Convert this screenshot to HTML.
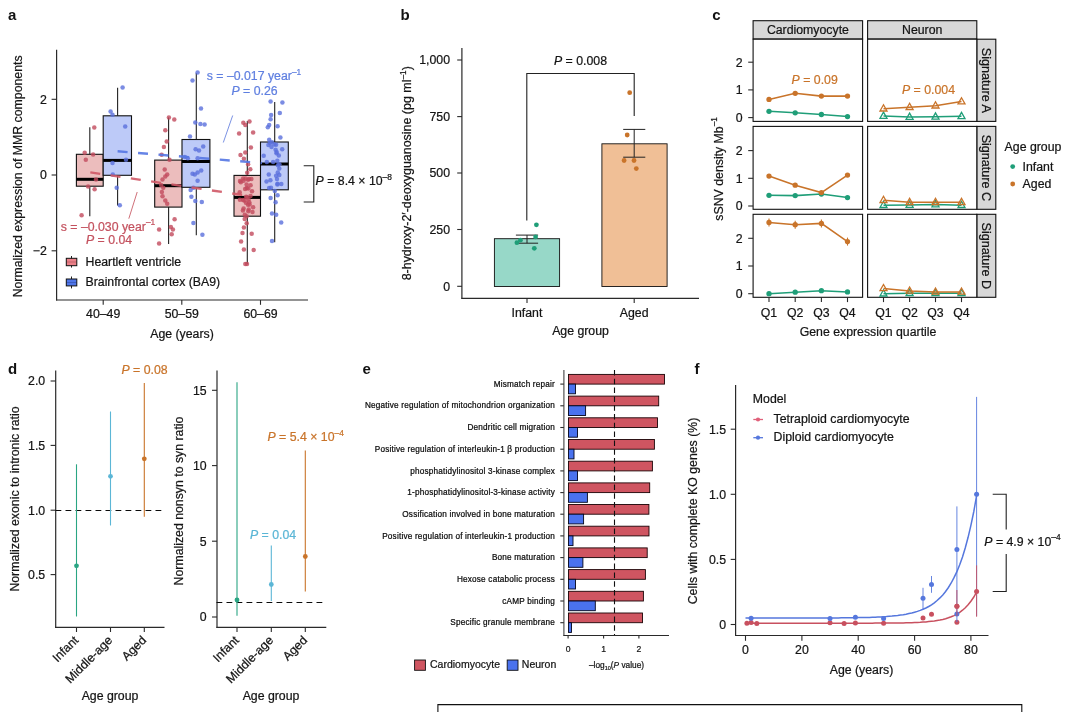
<!DOCTYPE html>
<html><head><meta charset="utf-8"><title>Figure</title>
<style>
html,body{margin:0;padding:0;background:#fff;}
svg{display:block;will-change:transform;}
text{font-family:"Liberation Sans",Arial,Helvetica,sans-serif;}
</style></head><body>
<svg width="1080" height="712" viewBox="0 0 1080 712">
<rect x="0" y="0" width="1080" height="712" fill="#ffffff"/>
<g id="panel-a">
<text x="8.0" y="19.5" font-size="15" text-anchor="start" fill="#111" font-weight="bold">a</text>
<line x1="89.8" y1="127.2" x2="89.8" y2="154.3" stroke="#222" stroke-width="1.1"/>
<line x1="89.8" y1="186.2" x2="89.8" y2="216.2" stroke="#222" stroke-width="1.1"/>
<rect x="76.4" y="154.3" width="26.8" height="31.9" fill="#ecbdbd" stroke="#111" stroke-width="1.1"/>
<line x1="76.4" y1="179.3" x2="103.2" y2="179.3" stroke="#000" stroke-width="3"/>
<line x1="117.6" y1="87.7" x2="117.6" y2="115.8" stroke="#222" stroke-width="1.1"/>
<line x1="117.6" y1="175.3" x2="117.6" y2="205.6" stroke="#222" stroke-width="1.1"/>
<rect x="103.2" y="115.8" width="28.3" height="59.5" fill="#bdcaf8" stroke="#111" stroke-width="1.1"/>
<line x1="103.2" y1="160.4" x2="131.5" y2="160.4" stroke="#000" stroke-width="3"/>
<line x1="168.6" y1="117.6" x2="168.6" y2="160.1" stroke="#222" stroke-width="1.1"/>
<line x1="168.6" y1="207.1" x2="168.6" y2="244.0" stroke="#222" stroke-width="1.1"/>
<rect x="154.7" y="160.1" width="27.3" height="47.0" fill="#ecbdbd" stroke="#111" stroke-width="1.1"/>
<line x1="154.7" y1="185.7" x2="182.0" y2="185.7" stroke="#000" stroke-width="3"/>
<line x1="196.3" y1="73.0" x2="196.3" y2="139.5" stroke="#222" stroke-width="1.1"/>
<line x1="196.3" y1="187.3" x2="196.3" y2="235.2" stroke="#222" stroke-width="1.1"/>
<rect x="182.0" y="139.5" width="27.9" height="47.8" fill="#bdcaf8" stroke="#111" stroke-width="1.1"/>
<line x1="182.0" y1="161.5" x2="209.9" y2="161.5" stroke="#000" stroke-width="3"/>
<line x1="247.3" y1="121.0" x2="247.3" y2="175.4" stroke="#222" stroke-width="1.1"/>
<line x1="247.3" y1="216.2" x2="247.3" y2="264.3" stroke="#222" stroke-width="1.1"/>
<rect x="234.0" y="175.4" width="26.5" height="40.8" fill="#ecbdbd" stroke="#111" stroke-width="1.1"/>
<line x1="234.0" y1="197.4" x2="260.5" y2="197.4" stroke="#000" stroke-width="3"/>
<line x1="274.7" y1="102.0" x2="274.7" y2="142.0" stroke="#222" stroke-width="1.1"/>
<line x1="274.7" y1="189.8" x2="274.7" y2="242.3" stroke="#222" stroke-width="1.1"/>
<rect x="260.5" y="142.0" width="27.8" height="47.8" fill="#bdcaf8" stroke="#111" stroke-width="1.1"/>
<line x1="260.5" y1="164.0" x2="288.3" y2="164.0" stroke="#000" stroke-width="3"/>
<circle cx="94.3" cy="127.4" r="2.25" fill="#c24a5c" fill-opacity="0.8"/>
<circle cx="84.7" cy="152.7" r="2.25" fill="#c24a5c" fill-opacity="0.8"/>
<circle cx="93.1" cy="154.4" r="2.25" fill="#c24a5c" fill-opacity="0.8"/>
<circle cx="85.8" cy="159.7" r="2.25" fill="#c24a5c" fill-opacity="0.8"/>
<circle cx="96.0" cy="179.4" r="2.25" fill="#c24a5c" fill-opacity="0.8"/>
<circle cx="88.1" cy="186.4" r="2.25" fill="#c24a5c" fill-opacity="0.8"/>
<circle cx="94.6" cy="189.2" r="2.25" fill="#c24a5c" fill-opacity="0.8"/>
<circle cx="81.6" cy="215.3" r="2.25" fill="#c24a5c" fill-opacity="0.8"/>
<circle cx="168.9" cy="117.6" r="2.25" fill="#c24a5c" fill-opacity="0.8"/>
<circle cx="174.3" cy="119.6" r="2.25" fill="#c24a5c" fill-opacity="0.8"/>
<circle cx="165.3" cy="130.2" r="2.25" fill="#c24a5c" fill-opacity="0.8"/>
<circle cx="166.7" cy="141.5" r="2.25" fill="#c24a5c" fill-opacity="0.8"/>
<circle cx="163.9" cy="147.1" r="2.25" fill="#c24a5c" fill-opacity="0.8"/>
<circle cx="161.6" cy="154.7" r="2.25" fill="#c24a5c" fill-opacity="0.8"/>
<circle cx="169.5" cy="159.7" r="2.25" fill="#c24a5c" fill-opacity="0.8"/>
<circle cx="164.7" cy="169.6" r="2.25" fill="#c24a5c" fill-opacity="0.8"/>
<circle cx="167.2" cy="174.6" r="2.25" fill="#c24a5c" fill-opacity="0.8"/>
<circle cx="165.3" cy="176.6" r="2.25" fill="#c24a5c" fill-opacity="0.8"/>
<circle cx="162.5" cy="179.4" r="2.25" fill="#c24a5c" fill-opacity="0.8"/>
<circle cx="161.1" cy="185.0" r="2.25" fill="#c24a5c" fill-opacity="0.8"/>
<circle cx="163.3" cy="187.8" r="2.25" fill="#c24a5c" fill-opacity="0.8"/>
<circle cx="161.9" cy="192.0" r="2.25" fill="#c24a5c" fill-opacity="0.8"/>
<circle cx="162.5" cy="196.2" r="2.25" fill="#c24a5c" fill-opacity="0.8"/>
<circle cx="165.3" cy="200.4" r="2.25" fill="#c24a5c" fill-opacity="0.8"/>
<circle cx="167.2" cy="203.8" r="2.25" fill="#c24a5c" fill-opacity="0.8"/>
<circle cx="174.6" cy="219.3" r="2.25" fill="#c24a5c" fill-opacity="0.8"/>
<circle cx="159.1" cy="229.4" r="2.25" fill="#c24a5c" fill-opacity="0.8"/>
<circle cx="170.9" cy="227.1" r="2.25" fill="#c24a5c" fill-opacity="0.8"/>
<circle cx="172.9" cy="229.4" r="2.25" fill="#c24a5c" fill-opacity="0.8"/>
<circle cx="171.7" cy="234.2" r="2.25" fill="#c24a5c" fill-opacity="0.8"/>
<circle cx="159.1" cy="243.4" r="2.25" fill="#c24a5c" fill-opacity="0.8"/>
<circle cx="243.3" cy="122.7" r="2.25" fill="#c24a5c" fill-opacity="0.8"/>
<circle cx="249.5" cy="121.6" r="2.25" fill="#c24a5c" fill-opacity="0.8"/>
<circle cx="245.3" cy="124.9" r="2.25" fill="#c24a5c" fill-opacity="0.8"/>
<circle cx="239.1" cy="133.4" r="2.25" fill="#c24a5c" fill-opacity="0.8"/>
<circle cx="253.1" cy="132.5" r="2.25" fill="#c24a5c" fill-opacity="0.8"/>
<circle cx="250.9" cy="147.4" r="2.25" fill="#c24a5c" fill-opacity="0.8"/>
<circle cx="245.3" cy="152.5" r="2.25" fill="#c24a5c" fill-opacity="0.8"/>
<circle cx="240.5" cy="155.0" r="2.25" fill="#c24a5c" fill-opacity="0.8"/>
<circle cx="243.9" cy="158.7" r="2.25" fill="#c24a5c" fill-opacity="0.8"/>
<circle cx="248.1" cy="164.3" r="2.25" fill="#c24a5c" fill-opacity="0.8"/>
<circle cx="250.3" cy="169.3" r="2.25" fill="#c24a5c" fill-opacity="0.8"/>
<circle cx="247.2" cy="172.7" r="2.25" fill="#c24a5c" fill-opacity="0.8"/>
<circle cx="244.7" cy="219.0" r="2.25" fill="#c24a5c" fill-opacity="0.8"/>
<circle cx="246.7" cy="223.3" r="2.25" fill="#c24a5c" fill-opacity="0.8"/>
<circle cx="243.9" cy="227.5" r="2.25" fill="#c24a5c" fill-opacity="0.8"/>
<circle cx="242.5" cy="233.1" r="2.25" fill="#c24a5c" fill-opacity="0.8"/>
<circle cx="251.7" cy="233.7" r="2.25" fill="#c24a5c" fill-opacity="0.8"/>
<circle cx="241.1" cy="241.5" r="2.25" fill="#c24a5c" fill-opacity="0.8"/>
<circle cx="243.9" cy="249.4" r="2.25" fill="#c24a5c" fill-opacity="0.8"/>
<circle cx="253.7" cy="250.0" r="2.25" fill="#c24a5c" fill-opacity="0.8"/>
<circle cx="245.3" cy="264.0" r="2.25" fill="#c24a5c" fill-opacity="0.8"/>
<circle cx="247.0" cy="264.0" r="2.25" fill="#c24a5c" fill-opacity="0.8"/>
<circle cx="245.9" cy="202.7" r="2.25" fill="#c24a5c" fill-opacity="0.8"/>
<circle cx="249.1" cy="179.0" r="2.25" fill="#c24a5c" fill-opacity="0.8"/>
<circle cx="243.1" cy="178.4" r="2.25" fill="#c24a5c" fill-opacity="0.8"/>
<circle cx="246.1" cy="196.8" r="2.25" fill="#c24a5c" fill-opacity="0.8"/>
<circle cx="251.4" cy="178.9" r="2.25" fill="#c24a5c" fill-opacity="0.8"/>
<circle cx="248.0" cy="179.7" r="2.25" fill="#c24a5c" fill-opacity="0.8"/>
<circle cx="240.0" cy="181.1" r="2.25" fill="#c24a5c" fill-opacity="0.8"/>
<circle cx="250.6" cy="185.2" r="2.25" fill="#c24a5c" fill-opacity="0.8"/>
<circle cx="239.9" cy="199.7" r="2.25" fill="#c24a5c" fill-opacity="0.8"/>
<circle cx="239.7" cy="192.3" r="2.25" fill="#c24a5c" fill-opacity="0.8"/>
<circle cx="248.3" cy="211.2" r="2.25" fill="#c24a5c" fill-opacity="0.8"/>
<circle cx="246.8" cy="187.9" r="2.25" fill="#c24a5c" fill-opacity="0.8"/>
<circle cx="248.3" cy="188.6" r="2.25" fill="#c24a5c" fill-opacity="0.8"/>
<circle cx="248.7" cy="209.5" r="2.25" fill="#c24a5c" fill-opacity="0.8"/>
<circle cx="249.3" cy="202.2" r="2.25" fill="#c24a5c" fill-opacity="0.8"/>
<circle cx="252.0" cy="191.3" r="2.25" fill="#c24a5c" fill-opacity="0.8"/>
<circle cx="245.6" cy="178.4" r="2.25" fill="#c24a5c" fill-opacity="0.8"/>
<circle cx="246.6" cy="184.4" r="2.25" fill="#c24a5c" fill-opacity="0.8"/>
<circle cx="245.1" cy="188.9" r="2.25" fill="#c24a5c" fill-opacity="0.8"/>
<circle cx="243.0" cy="200.0" r="2.25" fill="#c24a5c" fill-opacity="0.8"/>
<circle cx="243.6" cy="208.6" r="2.25" fill="#c24a5c" fill-opacity="0.8"/>
<circle cx="248.0" cy="204.7" r="2.25" fill="#c24a5c" fill-opacity="0.8"/>
<circle cx="247.2" cy="197.5" r="2.25" fill="#c24a5c" fill-opacity="0.8"/>
<circle cx="252.5" cy="211.9" r="2.25" fill="#c24a5c" fill-opacity="0.8"/>
<circle cx="246.6" cy="216.2" r="2.25" fill="#c24a5c" fill-opacity="0.8"/>
<circle cx="243.6" cy="180.8" r="2.25" fill="#c24a5c" fill-opacity="0.8"/>
<circle cx="240.8" cy="182.2" r="2.25" fill="#c24a5c" fill-opacity="0.8"/>
<circle cx="250.5" cy="196.0" r="2.25" fill="#c24a5c" fill-opacity="0.8"/>
<circle cx="253.1" cy="207.3" r="2.25" fill="#c24a5c" fill-opacity="0.8"/>
<circle cx="248.5" cy="199.5" r="2.25" fill="#c24a5c" fill-opacity="0.8"/>
<circle cx="249.6" cy="204.5" r="2.25" fill="#c24a5c" fill-opacity="0.8"/>
<circle cx="244.4" cy="200.4" r="2.25" fill="#c24a5c" fill-opacity="0.8"/>
<circle cx="242.9" cy="210.4" r="2.25" fill="#c24a5c" fill-opacity="0.8"/>
<circle cx="244.8" cy="214.7" r="2.25" fill="#c24a5c" fill-opacity="0.8"/>
<circle cx="122.6" cy="87.5" r="2.25" fill="#5a6fdc" fill-opacity="0.8"/>
<circle cx="110.6" cy="111.4" r="2.25" fill="#5a6fdc" fill-opacity="0.8"/>
<circle cx="112.5" cy="114.8" r="2.25" fill="#5a6fdc" fill-opacity="0.8"/>
<circle cx="125.2" cy="126.6" r="2.25" fill="#5a6fdc" fill-opacity="0.8"/>
<circle cx="126.0" cy="159.7" r="2.25" fill="#5a6fdc" fill-opacity="0.8"/>
<circle cx="112.5" cy="163.1" r="2.25" fill="#5a6fdc" fill-opacity="0.8"/>
<circle cx="112.8" cy="174.6" r="2.25" fill="#5a6fdc" fill-opacity="0.8"/>
<circle cx="116.7" cy="187.8" r="2.25" fill="#5a6fdc" fill-opacity="0.8"/>
<circle cx="119.8" cy="205.2" r="2.25" fill="#5a6fdc" fill-opacity="0.8"/>
<circle cx="197.6" cy="72.6" r="2.25" fill="#5a6fdc" fill-opacity="0.8"/>
<circle cx="192.5" cy="80.5" r="2.25" fill="#5a6fdc" fill-opacity="0.8"/>
<circle cx="201.0" cy="108.6" r="2.25" fill="#5a6fdc" fill-opacity="0.8"/>
<circle cx="195.3" cy="122.4" r="2.25" fill="#5a6fdc" fill-opacity="0.8"/>
<circle cx="200.4" cy="124.0" r="2.25" fill="#5a6fdc" fill-opacity="0.8"/>
<circle cx="204.6" cy="124.6" r="2.25" fill="#5a6fdc" fill-opacity="0.8"/>
<circle cx="190.0" cy="136.4" r="2.25" fill="#5a6fdc" fill-opacity="0.8"/>
<circle cx="195.6" cy="149.3" r="2.25" fill="#5a6fdc" fill-opacity="0.8"/>
<circle cx="199.0" cy="150.4" r="2.25" fill="#5a6fdc" fill-opacity="0.8"/>
<circle cx="203.2" cy="146.5" r="2.25" fill="#5a6fdc" fill-opacity="0.8"/>
<circle cx="184.9" cy="156.9" r="2.25" fill="#5a6fdc" fill-opacity="0.8"/>
<circle cx="187.8" cy="158.3" r="2.25" fill="#5a6fdc" fill-opacity="0.8"/>
<circle cx="197.6" cy="158.3" r="2.25" fill="#5a6fdc" fill-opacity="0.8"/>
<circle cx="201.2" cy="170.4" r="2.25" fill="#5a6fdc" fill-opacity="0.8"/>
<circle cx="197.6" cy="172.4" r="2.25" fill="#5a6fdc" fill-opacity="0.8"/>
<circle cx="194.8" cy="174.6" r="2.25" fill="#5a6fdc" fill-opacity="0.8"/>
<circle cx="192.5" cy="173.8" r="2.25" fill="#5a6fdc" fill-opacity="0.8"/>
<circle cx="197.6" cy="180.8" r="2.25" fill="#5a6fdc" fill-opacity="0.8"/>
<circle cx="193.4" cy="187.8" r="2.25" fill="#5a6fdc" fill-opacity="0.8"/>
<circle cx="190.6" cy="190.0" r="2.25" fill="#5a6fdc" fill-opacity="0.8"/>
<circle cx="191.4" cy="196.8" r="2.25" fill="#5a6fdc" fill-opacity="0.8"/>
<circle cx="195.3" cy="201.0" r="2.25" fill="#5a6fdc" fill-opacity="0.8"/>
<circle cx="201.8" cy="201.9" r="2.25" fill="#5a6fdc" fill-opacity="0.8"/>
<circle cx="193.4" cy="222.9" r="2.25" fill="#5a6fdc" fill-opacity="0.8"/>
<circle cx="202.4" cy="234.7" r="2.25" fill="#5a6fdc" fill-opacity="0.8"/>
<circle cx="270.6" cy="101.6" r="2.25" fill="#5a6fdc" fill-opacity="0.8"/>
<circle cx="282.4" cy="102.5" r="2.25" fill="#5a6fdc" fill-opacity="0.8"/>
<circle cx="279.8" cy="113.1" r="2.25" fill="#5a6fdc" fill-opacity="0.8"/>
<circle cx="271.1" cy="115.1" r="2.25" fill="#5a6fdc" fill-opacity="0.8"/>
<circle cx="270.6" cy="119.3" r="2.25" fill="#5a6fdc" fill-opacity="0.8"/>
<circle cx="269.2" cy="124.9" r="2.25" fill="#5a6fdc" fill-opacity="0.8"/>
<circle cx="267.8" cy="127.2" r="2.25" fill="#5a6fdc" fill-opacity="0.8"/>
<circle cx="277.6" cy="126.3" r="2.25" fill="#5a6fdc" fill-opacity="0.8"/>
<circle cx="280.4" cy="137.6" r="2.25" fill="#5a6fdc" fill-opacity="0.8"/>
<circle cx="269.2" cy="139.8" r="2.25" fill="#5a6fdc" fill-opacity="0.8"/>
<circle cx="274.8" cy="191.0" r="2.25" fill="#5a6fdc" fill-opacity="0.8"/>
<circle cx="277.6" cy="195.2" r="2.25" fill="#5a6fdc" fill-opacity="0.8"/>
<circle cx="270.6" cy="198.0" r="2.25" fill="#5a6fdc" fill-opacity="0.8"/>
<circle cx="275.6" cy="202.2" r="2.25" fill="#5a6fdc" fill-opacity="0.8"/>
<circle cx="272.0" cy="213.4" r="2.25" fill="#5a6fdc" fill-opacity="0.8"/>
<circle cx="276.2" cy="214.8" r="2.25" fill="#5a6fdc" fill-opacity="0.8"/>
<circle cx="281.2" cy="222.4" r="2.25" fill="#5a6fdc" fill-opacity="0.8"/>
<circle cx="272.0" cy="241.0" r="2.25" fill="#5a6fdc" fill-opacity="0.8"/>
<circle cx="268.4" cy="144.9" r="2.25" fill="#5a6fdc" fill-opacity="0.8"/>
<circle cx="276.1" cy="175.7" r="2.25" fill="#5a6fdc" fill-opacity="0.8"/>
<circle cx="266.5" cy="181.5" r="2.25" fill="#5a6fdc" fill-opacity="0.8"/>
<circle cx="263.7" cy="155.7" r="2.25" fill="#5a6fdc" fill-opacity="0.8"/>
<circle cx="270.0" cy="143.1" r="2.25" fill="#5a6fdc" fill-opacity="0.8"/>
<circle cx="279.4" cy="164.2" r="2.25" fill="#5a6fdc" fill-opacity="0.8"/>
<circle cx="276.1" cy="144.8" r="2.25" fill="#5a6fdc" fill-opacity="0.8"/>
<circle cx="277.0" cy="178.9" r="2.25" fill="#5a6fdc" fill-opacity="0.8"/>
<circle cx="277.3" cy="160.8" r="2.25" fill="#5a6fdc" fill-opacity="0.8"/>
<circle cx="277.5" cy="183.8" r="2.25" fill="#5a6fdc" fill-opacity="0.8"/>
<circle cx="279.3" cy="168.4" r="2.25" fill="#5a6fdc" fill-opacity="0.8"/>
<circle cx="277.4" cy="184.4" r="2.25" fill="#5a6fdc" fill-opacity="0.8"/>
<circle cx="278.8" cy="155.4" r="2.25" fill="#5a6fdc" fill-opacity="0.8"/>
<circle cx="266.8" cy="161.9" r="2.25" fill="#5a6fdc" fill-opacity="0.8"/>
<circle cx="269.1" cy="188.0" r="2.25" fill="#5a6fdc" fill-opacity="0.8"/>
<circle cx="282.2" cy="149.2" r="2.25" fill="#5a6fdc" fill-opacity="0.8"/>
<circle cx="276.5" cy="153.2" r="2.25" fill="#5a6fdc" fill-opacity="0.8"/>
<circle cx="277.9" cy="165.3" r="2.25" fill="#5a6fdc" fill-opacity="0.8"/>
<circle cx="272.0" cy="142.2" r="2.25" fill="#5a6fdc" fill-opacity="0.8"/>
<circle cx="273.1" cy="162.1" r="2.25" fill="#5a6fdc" fill-opacity="0.8"/>
<circle cx="271.0" cy="187.7" r="2.25" fill="#5a6fdc" fill-opacity="0.8"/>
<circle cx="279.3" cy="175.1" r="2.25" fill="#5a6fdc" fill-opacity="0.8"/>
<circle cx="268.8" cy="174.5" r="2.25" fill="#5a6fdc" fill-opacity="0.8"/>
<circle cx="274.4" cy="144.6" r="2.25" fill="#5a6fdc" fill-opacity="0.8"/>
<circle cx="281.3" cy="184.0" r="2.25" fill="#5a6fdc" fill-opacity="0.8"/>
<circle cx="270.4" cy="180.3" r="2.25" fill="#5a6fdc" fill-opacity="0.8"/>
<circle cx="271.5" cy="147.0" r="2.25" fill="#5a6fdc" fill-opacity="0.8"/>
<circle cx="277.8" cy="172.4" r="2.25" fill="#5a6fdc" fill-opacity="0.8"/>
<circle cx="276.6" cy="152.0" r="2.25" fill="#5a6fdc" fill-opacity="0.8"/>
<circle cx="275.6" cy="149.8" r="2.25" fill="#5a6fdc" fill-opacity="0.8"/>
<line x1="90.3" y1="172.4" x2="248.0" y2="195.8" stroke="#cf5866" stroke-width="2.4" stroke-dasharray="10 10.5" stroke-opacity="0.9"/>
<line x1="117.6" y1="151.3" x2="262.0" y2="163.1" stroke="#5577e3" stroke-width="2.4" stroke-dasharray="10 10.5" stroke-opacity="0.9"/>
<line x1="232.7" y1="115.5" x2="223.3" y2="142.5" stroke="#6c86e0" stroke-width="0.9"/>
<line x1="137.2" y1="192.0" x2="128.8" y2="218.7" stroke="#c9606a" stroke-width="0.9"/>
<text x="254.0" y="80.0" font-size="12.3" text-anchor="middle" fill="#5f7fe0" stroke="#5f7fe0" stroke-width="0.22">s = –0.017 year<tspan font-size="8.4" dy="-5.4">–1</tspan></text>
<text x="254.5" y="95.0" font-size="12.3" text-anchor="middle" fill="#5f7fe0" stroke="#5f7fe0" stroke-width="0.22"><tspan font-style="italic">P</tspan> = 0.26</text>
<text x="108.0" y="230.5" font-size="12.3" text-anchor="middle" fill="#c4525f" stroke="#c4525f" stroke-width="0.22">s = –0.030 year<tspan font-size="8.4" dy="-5.4">–1</tspan></text>
<text x="109.0" y="244.0" font-size="12.3" text-anchor="middle" fill="#c4525f" stroke="#c4525f" stroke-width="0.22"><tspan font-style="italic">P</tspan> = 0.04</text>
<line x1="56.6" y1="49.8" x2="56.6" y2="300.5" stroke="#2a2a2a" stroke-width="1.2"/>
<line x1="56.0" y1="300.0" x2="308.0" y2="300.0" stroke="#2a2a2a" stroke-width="1.1"/>
<line x1="51.6" y1="99.3" x2="56.6" y2="99.3" stroke="#2a2a2a" stroke-width="1.1"/>
<text x="46.8" y="103.6" font-size="12.3" text-anchor="end" fill="#141414" stroke="#141414" stroke-width="0.22">2</text>
<line x1="51.6" y1="175.0" x2="56.6" y2="175.0" stroke="#2a2a2a" stroke-width="1.1"/>
<text x="46.8" y="179.3" font-size="12.3" text-anchor="end" fill="#141414" stroke="#141414" stroke-width="0.22">0</text>
<line x1="51.6" y1="250.8" x2="56.6" y2="250.8" stroke="#2a2a2a" stroke-width="1.1"/>
<text x="46.8" y="255.1" font-size="12.3" text-anchor="end" fill="#141414" stroke="#141414" stroke-width="0.22">−2</text>
<line x1="103.2" y1="300.0" x2="103.2" y2="304.8" stroke="#2a2a2a" stroke-width="1.1"/>
<text x="103.2" y="318.3" font-size="12.3" text-anchor="middle" fill="#141414" stroke="#141414" stroke-width="0.22">40–49</text>
<line x1="181.8" y1="300.0" x2="181.8" y2="304.8" stroke="#2a2a2a" stroke-width="1.1"/>
<text x="181.8" y="318.3" font-size="12.3" text-anchor="middle" fill="#141414" stroke="#141414" stroke-width="0.22">50–59</text>
<line x1="260.5" y1="300.0" x2="260.5" y2="304.8" stroke="#2a2a2a" stroke-width="1.1"/>
<text x="260.5" y="318.3" font-size="12.3" text-anchor="middle" fill="#141414" stroke="#141414" stroke-width="0.22">60–69</text>
<text x="182.0" y="337.5" font-size="12.3" text-anchor="middle" fill="#141414" stroke="#141414" stroke-width="0.22">Age (years)</text>
<text x="21.6" y="176.4" font-size="12.3" text-anchor="middle" fill="#141414" stroke="#141414" stroke-width="0.22" transform="rotate(-90 21.6 176.4)">Normalized expression of MMR components</text>
<line x1="71.5" y1="256.0" x2="71.5" y2="267.6" stroke="#222" stroke-width="1"/>
<rect x="66.3" y="258.3" width="10.5" height="7.4" fill="#ea8088" stroke="#111" stroke-width="1"/>
<line x1="66.3" y1="262.0" x2="76.8" y2="262.0" stroke="#5a1a20" stroke-width="0.8" stroke-opacity="0.35"/>
<text x="85.5" y="265.9" font-size="12.3" text-anchor="start" fill="#141414" stroke="#141414" stroke-width="0.22">Heartleft ventricle</text>
<line x1="71.5" y1="276.5" x2="71.5" y2="288.4" stroke="#222" stroke-width="1"/>
<rect x="66.3" y="279.0" width="10.5" height="6.9" fill="#4f76e8" stroke="#111" stroke-width="1"/>
<line x1="66.3" y1="282.5" x2="76.8" y2="282.5" stroke="#101a5a" stroke-width="0.8" stroke-opacity="0.35"/>
<text x="85.5" y="285.6" font-size="12.3" text-anchor="start" fill="#141414" stroke="#141414" stroke-width="0.22">Brainfrontal cortex (BA9)</text>
<path d="M303.7 165.8H313.8V202H303.7" fill="none" stroke="#222" stroke-width="1.1"/>
<text x="315.6" y="185.3" font-size="12.3" text-anchor="start" fill="#141414" stroke="#141414" stroke-width="0.22"><tspan font-style="italic">P</tspan> = 8.4 × 10<tspan font-size="8.4" dy="-5.4">–8</tspan></text>
</g>
<g id="panel-b">
<text x="400.5" y="19.5" font-size="15" text-anchor="start" fill="#111" font-weight="bold">b</text>
<rect x="494.4" y="238.7" width="65.2" height="47.8" fill="#97d8c8" stroke="#111" stroke-width="0.9"/>
<rect x="601.9" y="143.8" width="65.2" height="142.7" fill="#f0bf96" stroke="#111" stroke-width="0.9"/>
<line x1="527.0" y1="235.1" x2="527.0" y2="243.2" stroke="#222" stroke-width="1"/>
<line x1="515.9" y1="235.1" x2="538.1" y2="235.1" stroke="#222" stroke-width="1"/>
<line x1="515.9" y1="243.2" x2="538.1" y2="243.2" stroke="#222" stroke-width="1"/>
<line x1="634.2" y1="129.4" x2="634.2" y2="157.2" stroke="#222" stroke-width="1"/>
<line x1="623.2" y1="129.4" x2="645.3" y2="129.4" stroke="#222" stroke-width="1"/>
<line x1="623.2" y1="157.2" x2="645.3" y2="157.2" stroke="#222" stroke-width="1"/>
<circle cx="536.4" cy="224.8" r="2.4" fill="#1f9e78"/>
<circle cx="516.9" cy="242.7" r="2.4" fill="#1f9e78"/>
<circle cx="520.4" cy="240.2" r="2.4" fill="#1f9e78"/>
<circle cx="535.6" cy="236.9" r="2.4" fill="#1f9e78"/>
<circle cx="534.3" cy="248.3" r="2.4" fill="#1f9e78"/>
<circle cx="629.7" cy="92.7" r="2.4" fill="#c9742a"/>
<circle cx="627.2" cy="135.0" r="2.4" fill="#c9742a"/>
<circle cx="624.1" cy="160.5" r="2.4" fill="#c9742a"/>
<circle cx="634.0" cy="160.5" r="2.4" fill="#c9742a"/>
<circle cx="636.3" cy="168.6" r="2.4" fill="#c9742a"/>
<path d="M526.8 220.5V73.5H634.2V116" fill="none" stroke="#222" stroke-width="1.1"/>
<text x="580.5" y="65.0" font-size="12.3" text-anchor="middle" fill="#141414" stroke="#141414" stroke-width="0.22"><tspan font-style="italic">P</tspan> = 0.008</text>
<line x1="461.9" y1="48.0" x2="461.9" y2="298.8" stroke="#2a2a2a" stroke-width="1.2"/>
<line x1="461.3" y1="298.3" x2="699.0" y2="298.3" stroke="#2a2a2a" stroke-width="1.2"/>
<line x1="457.2" y1="60.0" x2="462.0" y2="60.0" stroke="#2a2a2a" stroke-width="1.1"/>
<text x="450.0" y="64.3" font-size="12.3" text-anchor="end" fill="#141414" stroke="#141414" stroke-width="0.22">1,000</text>
<line x1="457.2" y1="116.6" x2="462.0" y2="116.6" stroke="#2a2a2a" stroke-width="1.1"/>
<text x="450.0" y="120.9" font-size="12.3" text-anchor="end" fill="#141414" stroke="#141414" stroke-width="0.22">750</text>
<line x1="457.2" y1="173.0" x2="462.0" y2="173.0" stroke="#2a2a2a" stroke-width="1.1"/>
<text x="450.0" y="177.3" font-size="12.3" text-anchor="end" fill="#141414" stroke="#141414" stroke-width="0.22">500</text>
<line x1="457.2" y1="229.5" x2="462.0" y2="229.5" stroke="#2a2a2a" stroke-width="1.1"/>
<text x="450.0" y="233.8" font-size="12.3" text-anchor="end" fill="#141414" stroke="#141414" stroke-width="0.22">250</text>
<line x1="457.2" y1="286.3" x2="462.0" y2="286.3" stroke="#2a2a2a" stroke-width="1.1"/>
<text x="450.0" y="290.6" font-size="12.3" text-anchor="end" fill="#141414" stroke="#141414" stroke-width="0.22">0</text>
<line x1="527.0" y1="298.3" x2="527.0" y2="303.0" stroke="#2a2a2a" stroke-width="1.1"/>
<text x="527.0" y="316.8" font-size="12.3" text-anchor="middle" fill="#141414" stroke="#141414" stroke-width="0.22">Infant</text>
<line x1="634.2" y1="298.3" x2="634.2" y2="303.0" stroke="#2a2a2a" stroke-width="1.1"/>
<text x="634.2" y="316.8" font-size="12.3" text-anchor="middle" fill="#141414" stroke="#141414" stroke-width="0.22">Aged</text>
<text x="580.5" y="335.2" font-size="12.3" text-anchor="middle" fill="#141414" stroke="#141414" stroke-width="0.22">Age group</text>
<text x="411.2" y="173.2" font-size="12.45" text-anchor="middle" fill="#141414" stroke="#141414" stroke-width="0.22" transform="rotate(-90 411.2 173.2)">8-hydroxy-2′-deoxyguanosine (pg ml<tspan font-size="8.4" dy="-5.4">–1</tspan><tspan dy="5.4">)</tspan></text>
</g>
<g id="panel-c">
<text x="712.3" y="19.5" font-size="15" text-anchor="start" fill="#111" font-weight="bold">c</text>
<rect x="753.1" y="20.7" width="109.5" height="18.3" fill="#d8d8d8" stroke="#111" stroke-width="1.1"/>
<text x="807.9" y="34.2" font-size="12.3" text-anchor="middle" fill="#141414" stroke="#141414" stroke-width="0.22">Cardiomyocyte</text>
<rect x="867.6" y="20.7" width="109.2" height="18.3" fill="#d8d8d8" stroke="#111" stroke-width="1.1"/>
<text x="922.2" y="34.2" font-size="12.3" text-anchor="middle" fill="#141414" stroke="#141414" stroke-width="0.22">Neuron</text>
<rect x="976.8" y="39.2" width="19.0" height="82.2" fill="#d8d8d8" stroke="#111" stroke-width="1.1"/>
<text x="982.0" y="80.3" font-size="12.6" text-anchor="middle" fill="#141414" stroke="#141414" stroke-width="0.22" transform="rotate(90 982.0 80.3)">Signature A</text>
<rect x="976.8" y="126.4" width="19.0" height="82.9" fill="#d8d8d8" stroke="#111" stroke-width="1.1"/>
<text x="982.0" y="167.9" font-size="12.6" text-anchor="middle" fill="#141414" stroke="#141414" stroke-width="0.22" transform="rotate(90 982.0 167.9)">Signature C</text>
<rect x="976.8" y="214.3" width="19.0" height="83.0" fill="#d8d8d8" stroke="#111" stroke-width="1.1"/>
<text x="982.0" y="255.8" font-size="12.6" text-anchor="middle" fill="#141414" stroke="#141414" stroke-width="0.22" transform="rotate(90 982.0 255.8)">Signature D</text>
<rect x="753.1" y="39.2" width="109.5" height="82.2" fill="#fff" stroke="#111" stroke-width="1.1"/>
<rect x="753.1" y="126.4" width="109.5" height="82.9" fill="#fff" stroke="#111" stroke-width="1.1"/>
<rect x="753.1" y="214.3" width="109.5" height="83.0" fill="#fff" stroke="#111" stroke-width="1.1"/>
<rect x="867.6" y="39.2" width="109.2" height="82.2" fill="#fff" stroke="#111" stroke-width="1.1"/>
<rect x="867.6" y="126.4" width="109.2" height="82.9" fill="#fff" stroke="#111" stroke-width="1.1"/>
<rect x="867.6" y="214.3" width="109.2" height="83.0" fill="#fff" stroke="#111" stroke-width="1.1"/>
<line x1="748.2" y1="117.6" x2="753.1" y2="117.6" stroke="#2a2a2a" stroke-width="1.1"/>
<text x="742.6" y="121.9" font-size="12.3" text-anchor="end" fill="#141414" stroke="#141414" stroke-width="0.22">0</text>
<line x1="748.2" y1="89.9" x2="753.1" y2="89.9" stroke="#2a2a2a" stroke-width="1.1"/>
<text x="742.6" y="94.2" font-size="12.3" text-anchor="end" fill="#141414" stroke="#141414" stroke-width="0.22">1</text>
<line x1="748.2" y1="62.2" x2="753.1" y2="62.2" stroke="#2a2a2a" stroke-width="1.1"/>
<text x="742.6" y="66.5" font-size="12.3" text-anchor="end" fill="#141414" stroke="#141414" stroke-width="0.22">2</text>
<line x1="748.2" y1="206.0" x2="753.1" y2="206.0" stroke="#2a2a2a" stroke-width="1.1"/>
<text x="742.6" y="210.3" font-size="12.3" text-anchor="end" fill="#141414" stroke="#141414" stroke-width="0.22">0</text>
<line x1="748.2" y1="178.3" x2="753.1" y2="178.3" stroke="#2a2a2a" stroke-width="1.1"/>
<text x="742.6" y="182.6" font-size="12.3" text-anchor="end" fill="#141414" stroke="#141414" stroke-width="0.22">1</text>
<line x1="748.2" y1="150.6" x2="753.1" y2="150.6" stroke="#2a2a2a" stroke-width="1.1"/>
<text x="742.6" y="154.9" font-size="12.3" text-anchor="end" fill="#141414" stroke="#141414" stroke-width="0.22">2</text>
<line x1="748.2" y1="293.7" x2="753.1" y2="293.7" stroke="#2a2a2a" stroke-width="1.1"/>
<text x="742.6" y="298.0" font-size="12.3" text-anchor="end" fill="#141414" stroke="#141414" stroke-width="0.22">0</text>
<line x1="748.2" y1="266.0" x2="753.1" y2="266.0" stroke="#2a2a2a" stroke-width="1.1"/>
<text x="742.6" y="270.3" font-size="12.3" text-anchor="end" fill="#141414" stroke="#141414" stroke-width="0.22">1</text>
<line x1="748.2" y1="238.3" x2="753.1" y2="238.3" stroke="#2a2a2a" stroke-width="1.1"/>
<text x="742.6" y="242.6" font-size="12.3" text-anchor="end" fill="#141414" stroke="#141414" stroke-width="0.22">2</text>
<line x1="769.0" y1="297.3" x2="769.0" y2="302.1" stroke="#2a2a2a" stroke-width="1.1"/>
<text x="769.0" y="317.2" font-size="12.3" text-anchor="middle" fill="#141414" stroke="#141414" stroke-width="0.22">Q1</text>
<line x1="795.2" y1="297.3" x2="795.2" y2="302.1" stroke="#2a2a2a" stroke-width="1.1"/>
<text x="795.2" y="317.2" font-size="12.3" text-anchor="middle" fill="#141414" stroke="#141414" stroke-width="0.22">Q2</text>
<line x1="821.4" y1="297.3" x2="821.4" y2="302.1" stroke="#2a2a2a" stroke-width="1.1"/>
<text x="821.4" y="317.2" font-size="12.3" text-anchor="middle" fill="#141414" stroke="#141414" stroke-width="0.22">Q3</text>
<line x1="847.5" y1="297.3" x2="847.5" y2="302.1" stroke="#2a2a2a" stroke-width="1.1"/>
<text x="847.5" y="317.2" font-size="12.3" text-anchor="middle" fill="#141414" stroke="#141414" stroke-width="0.22">Q4</text>
<line x1="883.5" y1="297.3" x2="883.5" y2="302.1" stroke="#2a2a2a" stroke-width="1.1"/>
<text x="883.5" y="317.2" font-size="12.3" text-anchor="middle" fill="#141414" stroke="#141414" stroke-width="0.22">Q1</text>
<line x1="909.6" y1="297.3" x2="909.6" y2="302.1" stroke="#2a2a2a" stroke-width="1.1"/>
<text x="909.6" y="317.2" font-size="12.3" text-anchor="middle" fill="#141414" stroke="#141414" stroke-width="0.22">Q2</text>
<line x1="935.5" y1="297.3" x2="935.5" y2="302.1" stroke="#2a2a2a" stroke-width="1.1"/>
<text x="935.5" y="317.2" font-size="12.3" text-anchor="middle" fill="#141414" stroke="#141414" stroke-width="0.22">Q3</text>
<line x1="961.5" y1="297.3" x2="961.5" y2="302.1" stroke="#2a2a2a" stroke-width="1.1"/>
<text x="961.5" y="317.2" font-size="12.3" text-anchor="middle" fill="#141414" stroke="#141414" stroke-width="0.22">Q4</text>
<text x="868.0" y="335.6" font-size="12.3" text-anchor="middle" fill="#141414" stroke="#141414" stroke-width="0.22">Gene expression quartile</text>
<text x="722.6" y="168.8" font-size="12.3" text-anchor="middle" fill="#141414" stroke="#141414" stroke-width="0.22" transform="rotate(-90 722.6 168.8)">sSNV density Mb<tspan font-size="8.4" dy="-5.4">–1</tspan></text>
<polyline points="769.0,111.3 795.2,112.8 821.4,114.5 847.5,116.6" fill="none" stroke="#1f9e78" stroke-width="1.55"/>
<circle cx="769.0" cy="111.3" r="2.65" fill="#1f9e78"/>
<circle cx="795.2" cy="112.8" r="2.65" fill="#1f9e78"/>
<circle cx="821.4" cy="114.5" r="2.65" fill="#1f9e78"/>
<circle cx="847.5" cy="116.6" r="2.65" fill="#1f9e78"/>
<polyline points="769.0,99.4 795.2,93.3 821.4,96.1 847.5,96.1" fill="none" stroke="#c9742a" stroke-width="1.55"/>
<circle cx="769.0" cy="99.4" r="2.65" fill="#c9742a"/>
<circle cx="795.2" cy="93.3" r="2.65" fill="#c9742a"/>
<circle cx="821.4" cy="96.1" r="2.65" fill="#c9742a"/>
<circle cx="847.5" cy="96.1" r="2.65" fill="#c9742a"/>
<polyline points="769.0,195.3 795.2,195.6 821.4,194.1 847.5,197.6" fill="none" stroke="#1f9e78" stroke-width="1.55"/>
<circle cx="769.0" cy="195.3" r="2.65" fill="#1f9e78"/>
<circle cx="795.2" cy="195.6" r="2.65" fill="#1f9e78"/>
<circle cx="821.4" cy="194.1" r="2.65" fill="#1f9e78"/>
<circle cx="847.5" cy="197.6" r="2.65" fill="#1f9e78"/>
<polyline points="769.0,176.1 795.2,185.2 821.4,192.6 847.5,175.1" fill="none" stroke="#c9742a" stroke-width="1.55"/>
<circle cx="769.0" cy="176.1" r="2.65" fill="#c9742a"/>
<circle cx="795.2" cy="185.2" r="2.65" fill="#c9742a"/>
<circle cx="821.4" cy="192.6" r="2.65" fill="#c9742a"/>
<circle cx="847.5" cy="175.1" r="2.65" fill="#c9742a"/>
<polyline points="769.0,293.7 795.2,292.2 821.4,290.7 847.5,291.9" fill="none" stroke="#1f9e78" stroke-width="1.55"/>
<circle cx="769.0" cy="293.7" r="2.65" fill="#1f9e78"/>
<circle cx="795.2" cy="292.2" r="2.65" fill="#1f9e78"/>
<circle cx="821.4" cy="290.7" r="2.65" fill="#1f9e78"/>
<circle cx="847.5" cy="291.9" r="2.65" fill="#1f9e78"/>
<polyline points="769.0,222.4 795.2,224.7 821.4,223.4 847.5,241.6" fill="none" stroke="#c9742a" stroke-width="1.55"/>
<line x1="769.0" y1="218.4" x2="769.0" y2="226.4" stroke="#c9742a" stroke-width="1.1"/>
<circle cx="769.0" cy="222.4" r="2.65" fill="#c9742a"/>
<line x1="795.2" y1="220.7" x2="795.2" y2="228.7" stroke="#c9742a" stroke-width="1.1"/>
<circle cx="795.2" cy="224.7" r="2.65" fill="#c9742a"/>
<line x1="821.4" y1="219.4" x2="821.4" y2="227.4" stroke="#c9742a" stroke-width="1.1"/>
<circle cx="821.4" cy="223.4" r="2.65" fill="#c9742a"/>
<line x1="847.5" y1="237.6" x2="847.5" y2="245.6" stroke="#c9742a" stroke-width="1.1"/>
<circle cx="847.5" cy="241.6" r="2.65" fill="#c9742a"/>
<polyline points="883.5,116.0 909.6,117.0 935.5,116.8 961.5,116.3" fill="none" stroke="#1f9e78" stroke-width="1.55"/>
<path d="M883.5 112.1L887.0 118.3H880.0Z" fill="none" stroke="#1f9e78" stroke-width="1.3"/>
<path d="M909.6 113.1L913.1 119.3H906.1Z" fill="none" stroke="#1f9e78" stroke-width="1.3"/>
<path d="M935.5 112.9L939.0 119.1H932.0Z" fill="none" stroke="#1f9e78" stroke-width="1.3"/>
<path d="M961.5 112.4L965.0 118.6H958.0Z" fill="none" stroke="#1f9e78" stroke-width="1.3"/>
<polyline points="883.5,108.7 909.6,107.2 935.5,105.7 961.5,101.6" fill="none" stroke="#c9742a" stroke-width="1.55"/>
<path d="M883.5 104.8L887.0 111.0H880.0Z" fill="none" stroke="#c9742a" stroke-width="1.3"/>
<path d="M909.6 103.3L913.1 109.5H906.1Z" fill="none" stroke="#c9742a" stroke-width="1.3"/>
<path d="M935.5 101.8L939.0 108.0H932.0Z" fill="none" stroke="#c9742a" stroke-width="1.3"/>
<path d="M961.5 97.7L965.0 103.9H958.0Z" fill="none" stroke="#c9742a" stroke-width="1.3"/>
<polyline points="883.5,205.2 909.6,205.0 935.5,204.5 961.5,205.2" fill="none" stroke="#1f9e78" stroke-width="1.55"/>
<path d="M883.5 201.3L887.0 207.5H880.0Z" fill="none" stroke="#1f9e78" stroke-width="1.3"/>
<path d="M909.6 201.1L913.1 207.3H906.1Z" fill="none" stroke="#1f9e78" stroke-width="1.3"/>
<path d="M935.5 200.6L939.0 206.8H932.0Z" fill="none" stroke="#1f9e78" stroke-width="1.3"/>
<path d="M961.5 201.3L965.0 207.5H958.0Z" fill="none" stroke="#1f9e78" stroke-width="1.3"/>
<polyline points="883.5,200.2 909.6,202.2 935.5,202.2 961.5,202.2" fill="none" stroke="#c9742a" stroke-width="1.55"/>
<path d="M883.5 196.3L887.0 202.5H880.0Z" fill="none" stroke="#c9742a" stroke-width="1.3"/>
<path d="M909.6 198.3L913.1 204.5H906.1Z" fill="none" stroke="#c9742a" stroke-width="1.3"/>
<path d="M935.5 198.3L939.0 204.5H932.0Z" fill="none" stroke="#c9742a" stroke-width="1.3"/>
<path d="M961.5 198.3L965.0 204.5H958.0Z" fill="none" stroke="#c9742a" stroke-width="1.3"/>
<polyline points="883.5,293.7 909.6,293.2 935.5,293.2 961.5,293.2" fill="none" stroke="#1f9e78" stroke-width="1.55"/>
<path d="M883.5 289.8L887.0 296.0H880.0Z" fill="none" stroke="#1f9e78" stroke-width="1.3"/>
<path d="M909.6 289.3L913.1 295.5H906.1Z" fill="none" stroke="#1f9e78" stroke-width="1.3"/>
<path d="M935.5 289.3L939.0 295.5H932.0Z" fill="none" stroke="#1f9e78" stroke-width="1.3"/>
<path d="M961.5 289.3L965.0 295.5H958.0Z" fill="none" stroke="#1f9e78" stroke-width="1.3"/>
<polyline points="883.5,288.4 909.6,290.9 935.5,291.9 961.5,291.9" fill="none" stroke="#c9742a" stroke-width="1.55"/>
<path d="M883.5 284.5L887.0 290.7H880.0Z" fill="none" stroke="#c9742a" stroke-width="1.3"/>
<path d="M909.6 287.0L913.1 293.2H906.1Z" fill="none" stroke="#c9742a" stroke-width="1.3"/>
<path d="M935.5 288.0L939.0 294.2H932.0Z" fill="none" stroke="#c9742a" stroke-width="1.3"/>
<path d="M961.5 288.0L965.0 294.2H958.0Z" fill="none" stroke="#c9742a" stroke-width="1.3"/>
<text x="814.7" y="84.2" font-size="12.3" text-anchor="middle" fill="#c9742a" stroke="#c9742a" stroke-width="0.22"><tspan font-style="italic">P</tspan> = 0.09</text>
<text x="928.5" y="94.2" font-size="12.3" text-anchor="middle" fill="#c9742a" stroke="#c9742a" stroke-width="0.22"><tspan font-style="italic">P</tspan> = 0.004</text>
<text x="1004.6" y="151.0" font-size="12.3" text-anchor="start" fill="#141414" stroke="#141414" stroke-width="0.22">Age group</text>
<circle cx="1012.7" cy="166.6" r="2.4" fill="#1f9e78"/>
<text x="1022.6" y="171.0" font-size="12.3" text-anchor="start" fill="#141414" stroke="#141414" stroke-width="0.22">Infant</text>
<circle cx="1012.7" cy="184.0" r="2.4" fill="#c9742a"/>
<text x="1022.6" y="188.4" font-size="12.3" text-anchor="start" fill="#141414" stroke="#141414" stroke-width="0.22">Aged</text>
</g>
<g id="panel-d">
<text x="8.0" y="373.6" font-size="15" text-anchor="start" fill="#111" font-weight="bold">d</text>
<line x1="55.7" y1="370.5" x2="55.7" y2="628.0" stroke="#2a2a2a" stroke-width="1.2"/>
<line x1="55.1" y1="627.4" x2="164.5" y2="627.4" stroke="#2a2a2a" stroke-width="1.2"/>
<line x1="50.6" y1="381.0" x2="55.6" y2="381.0" stroke="#2a2a2a" stroke-width="1.1"/>
<text x="45.2" y="385.3" font-size="12.3" text-anchor="end" fill="#141414" stroke="#141414" stroke-width="0.22">2.0</text>
<line x1="50.6" y1="445.4" x2="55.6" y2="445.4" stroke="#2a2a2a" stroke-width="1.1"/>
<text x="45.2" y="449.7" font-size="12.3" text-anchor="end" fill="#141414" stroke="#141414" stroke-width="0.22">1.5</text>
<line x1="50.6" y1="510.2" x2="55.6" y2="510.2" stroke="#2a2a2a" stroke-width="1.1"/>
<text x="45.2" y="514.5" font-size="12.3" text-anchor="end" fill="#141414" stroke="#141414" stroke-width="0.22">1.0</text>
<line x1="50.6" y1="574.6" x2="55.6" y2="574.6" stroke="#2a2a2a" stroke-width="1.1"/>
<text x="45.2" y="578.9" font-size="12.3" text-anchor="end" fill="#141414" stroke="#141414" stroke-width="0.22">0.5</text>
<line x1="55.5" y1="510.4" x2="162.5" y2="510.4" stroke="#0c0c0c" stroke-width="1.05" stroke-dasharray="5.8 4.2"/>
<line x1="76.5" y1="464.3" x2="76.5" y2="616.5" stroke="#2aa583" stroke-width="1.1"/>
<circle cx="76.5" cy="565.8" r="2.4" fill="#2aa583"/>
<line x1="110.5" y1="411.5" x2="110.5" y2="525.5" stroke="#5bb6d6" stroke-width="1.1"/>
<circle cx="110.5" cy="476.3" r="2.4" fill="#5bb6d6"/>
<line x1="144.3" y1="383.0" x2="144.3" y2="516.8" stroke="#c9742a" stroke-width="1.1"/>
<circle cx="144.3" cy="458.8" r="2.4" fill="#c9742a"/>
<text x="144.5" y="374.0" font-size="12.3" text-anchor="middle" fill="#c9742a" stroke="#c9742a" stroke-width="0.22"><tspan font-style="italic">P</tspan> = 0.08</text>
<line x1="76.5" y1="627.4" x2="76.5" y2="632.0" stroke="#2a2a2a" stroke-width="1.1"/>
<text x="79.2" y="641.0" font-size="12.3" text-anchor="end" fill="#141414" stroke="#141414" stroke-width="0.22" transform="rotate(-45 79.2 641.0)">Infant</text>
<line x1="110.5" y1="627.4" x2="110.5" y2="632.0" stroke="#2a2a2a" stroke-width="1.1"/>
<text x="113.2" y="641.0" font-size="12.3" text-anchor="end" fill="#141414" stroke="#141414" stroke-width="0.22" transform="rotate(-45 113.2 641.0)">Middle-age</text>
<line x1="144.3" y1="627.4" x2="144.3" y2="632.0" stroke="#2a2a2a" stroke-width="1.1"/>
<text x="147.0" y="641.0" font-size="12.3" text-anchor="end" fill="#141414" stroke="#141414" stroke-width="0.22" transform="rotate(-45 147.0 641.0)">Aged</text>
<text x="110.0" y="700.0" font-size="12.3" text-anchor="middle" fill="#141414" stroke="#141414" stroke-width="0.22">Age group</text>
<text x="18.5" y="499.0" font-size="12.3" text-anchor="middle" fill="#141414" stroke="#141414" stroke-width="0.22" transform="rotate(-90 18.5 499.0)">Normalized exonic to intronic ratio</text>
<line x1="217.0" y1="370.5" x2="217.0" y2="628.0" stroke="#2a2a2a" stroke-width="1.2"/>
<line x1="216.4" y1="627.4" x2="326.3" y2="627.4" stroke="#2a2a2a" stroke-width="1.2"/>
<line x1="212.0" y1="390.3" x2="217.0" y2="390.3" stroke="#2a2a2a" stroke-width="1.1"/>
<text x="206.6" y="394.6" font-size="12.3" text-anchor="end" fill="#141414" stroke="#141414" stroke-width="0.22">15</text>
<line x1="212.0" y1="465.6" x2="217.0" y2="465.6" stroke="#2a2a2a" stroke-width="1.1"/>
<text x="206.6" y="469.9" font-size="12.3" text-anchor="end" fill="#141414" stroke="#141414" stroke-width="0.22">10</text>
<line x1="212.0" y1="541.2" x2="217.0" y2="541.2" stroke="#2a2a2a" stroke-width="1.1"/>
<text x="206.6" y="545.5" font-size="12.3" text-anchor="end" fill="#141414" stroke="#141414" stroke-width="0.22">5</text>
<line x1="212.0" y1="617.0" x2="217.0" y2="617.0" stroke="#2a2a2a" stroke-width="1.1"/>
<text x="206.6" y="621.3" font-size="12.3" text-anchor="end" fill="#141414" stroke="#141414" stroke-width="0.22">0</text>
<line x1="216.5" y1="602.4" x2="323.5" y2="602.4" stroke="#0c0c0c" stroke-width="1.05" stroke-dasharray="5.8 4.2"/>
<line x1="237.0" y1="382.3" x2="237.0" y2="615.8" stroke="#2aa583" stroke-width="1.1"/>
<circle cx="237.0" cy="600.0" r="2.4" fill="#2aa583"/>
<line x1="271.3" y1="545.5" x2="271.3" y2="601.0" stroke="#5bb6d6" stroke-width="1.1"/>
<circle cx="271.3" cy="584.5" r="2.4" fill="#5bb6d6"/>
<line x1="305.3" y1="450.5" x2="305.3" y2="591.5" stroke="#c9742a" stroke-width="1.1"/>
<circle cx="305.3" cy="556.5" r="2.4" fill="#c9742a"/>
<text x="267.5" y="441.0" font-size="12.3" text-anchor="start" fill="#c9742a" stroke="#c9742a" stroke-width="0.22"><tspan font-style="italic">P</tspan> = 5.4 × 10<tspan font-size="8.4" dy="-5.4">–4</tspan></text>
<text x="273.0" y="538.5" font-size="12.3" text-anchor="middle" fill="#5bb6d6" stroke="#5bb6d6" stroke-width="0.22"><tspan font-style="italic">P</tspan> = 0.04</text>
<line x1="237.0" y1="627.4" x2="237.0" y2="632.0" stroke="#2a2a2a" stroke-width="1.1"/>
<text x="239.7" y="641.0" font-size="12.3" text-anchor="end" fill="#141414" stroke="#141414" stroke-width="0.22" transform="rotate(-45 239.7 641.0)">Infant</text>
<line x1="271.3" y1="627.4" x2="271.3" y2="632.0" stroke="#2a2a2a" stroke-width="1.1"/>
<text x="274.0" y="641.0" font-size="12.3" text-anchor="end" fill="#141414" stroke="#141414" stroke-width="0.22" transform="rotate(-45 274.0 641.0)">Middle-age</text>
<line x1="305.3" y1="627.4" x2="305.3" y2="632.0" stroke="#2a2a2a" stroke-width="1.1"/>
<text x="308.0" y="641.0" font-size="12.3" text-anchor="end" fill="#141414" stroke="#141414" stroke-width="0.22" transform="rotate(-45 308.0 641.0)">Aged</text>
<text x="271.0" y="700.0" font-size="12.3" text-anchor="middle" fill="#141414" stroke="#141414" stroke-width="0.22">Age group</text>
<text x="182.9" y="501.0" font-size="12.3" text-anchor="middle" fill="#141414" stroke="#141414" stroke-width="0.22" transform="rotate(-90 182.9 501.0)">Normalized nonsyn to syn ratio</text>
</g>
<g id="panel-e">
<text x="362.5" y="374.0" font-size="15" text-anchor="start" fill="#111" font-weight="bold">e</text>
<rect x="568.5" y="374.4" width="96.0" height="9.7" fill="#cf5561" stroke="#1a0305" stroke-width="0.9"/>
<rect x="568.5" y="384.1" width="7.0" height="9.7" fill="#4a72ee" stroke="#03051a" stroke-width="0.9"/>
<line x1="560.3" y1="384.1" x2="564.0" y2="384.1" stroke="#2a2a2a" stroke-width="1.1"/>
<text x="555.0" y="386.7" font-size="8.2" text-anchor="end" fill="#0a0a0a" stroke="#0a0a0a" stroke-width="0.22" letter-spacing="0.2">Mismatch repair</text>
<rect x="568.5" y="396.1" width="90.2" height="9.7" fill="#cf5561" stroke="#1a0305" stroke-width="0.9"/>
<rect x="568.5" y="405.8" width="17.1" height="9.7" fill="#4a72ee" stroke="#03051a" stroke-width="0.9"/>
<line x1="560.3" y1="405.8" x2="564.0" y2="405.8" stroke="#2a2a2a" stroke-width="1.1"/>
<text x="555.0" y="408.4" font-size="8.2" text-anchor="end" fill="#0a0a0a" stroke="#0a0a0a" stroke-width="0.22" letter-spacing="0.2">Negative regulation of mitochondrion organization</text>
<rect x="568.5" y="417.8" width="89.0" height="9.7" fill="#cf5561" stroke="#1a0305" stroke-width="0.9"/>
<rect x="568.5" y="427.5" width="9.0" height="9.7" fill="#4a72ee" stroke="#03051a" stroke-width="0.9"/>
<line x1="560.3" y1="427.5" x2="564.0" y2="427.5" stroke="#2a2a2a" stroke-width="1.1"/>
<text x="555.0" y="430.1" font-size="8.2" text-anchor="end" fill="#0a0a0a" stroke="#0a0a0a" stroke-width="0.22" letter-spacing="0.2">Dendritic cell migration</text>
<rect x="568.5" y="439.5" width="85.9" height="9.7" fill="#cf5561" stroke="#1a0305" stroke-width="0.9"/>
<rect x="568.5" y="449.2" width="5.5" height="9.7" fill="#4a72ee" stroke="#03051a" stroke-width="0.9"/>
<line x1="560.3" y1="449.2" x2="564.0" y2="449.2" stroke="#2a2a2a" stroke-width="1.1"/>
<text x="555.0" y="451.8" font-size="8.2" text-anchor="end" fill="#0a0a0a" stroke="#0a0a0a" stroke-width="0.22" letter-spacing="0.2">Positive regulation of interleukin-1 β production</text>
<rect x="568.5" y="461.2" width="83.9" height="9.7" fill="#cf5561" stroke="#1a0305" stroke-width="0.9"/>
<rect x="568.5" y="470.9" width="9.0" height="9.7" fill="#4a72ee" stroke="#03051a" stroke-width="0.9"/>
<line x1="560.3" y1="470.9" x2="564.0" y2="470.9" stroke="#2a2a2a" stroke-width="1.1"/>
<text x="555.0" y="473.5" font-size="8.2" text-anchor="end" fill="#0a0a0a" stroke="#0a0a0a" stroke-width="0.22" letter-spacing="0.2">phosphatidylinositol 3-kinase complex</text>
<rect x="568.5" y="482.9" width="81.2" height="9.7" fill="#cf5561" stroke="#1a0305" stroke-width="0.9"/>
<rect x="568.5" y="492.6" width="18.9" height="9.7" fill="#4a72ee" stroke="#03051a" stroke-width="0.9"/>
<line x1="560.3" y1="492.6" x2="564.0" y2="492.6" stroke="#2a2a2a" stroke-width="1.1"/>
<text x="555.0" y="495.2" font-size="8.2" text-anchor="end" fill="#0a0a0a" stroke="#0a0a0a" stroke-width="0.22" letter-spacing="0.2">1-phosphatidylinositol-3-kinase activity</text>
<rect x="568.5" y="504.5" width="80.4" height="9.7" fill="#cf5561" stroke="#1a0305" stroke-width="0.9"/>
<rect x="568.5" y="514.2" width="15.1" height="9.7" fill="#4a72ee" stroke="#03051a" stroke-width="0.9"/>
<line x1="560.3" y1="514.2" x2="564.0" y2="514.2" stroke="#2a2a2a" stroke-width="1.1"/>
<text x="555.0" y="516.8" font-size="8.2" text-anchor="end" fill="#0a0a0a" stroke="#0a0a0a" stroke-width="0.22" letter-spacing="0.2">Ossification involved in bone maturation</text>
<rect x="568.5" y="526.2" width="80.5" height="9.7" fill="#cf5561" stroke="#1a0305" stroke-width="0.9"/>
<rect x="568.5" y="535.9" width="4.5" height="9.7" fill="#4a72ee" stroke="#03051a" stroke-width="0.9"/>
<line x1="560.3" y1="535.9" x2="564.0" y2="535.9" stroke="#2a2a2a" stroke-width="1.1"/>
<text x="555.0" y="538.5" font-size="8.2" text-anchor="end" fill="#0a0a0a" stroke="#0a0a0a" stroke-width="0.22" letter-spacing="0.2">Positive regulation of interleukin-1 production</text>
<rect x="568.5" y="547.9" width="78.7" height="9.7" fill="#cf5561" stroke="#1a0305" stroke-width="0.9"/>
<rect x="568.5" y="557.6" width="14.4" height="9.7" fill="#4a72ee" stroke="#03051a" stroke-width="0.9"/>
<line x1="560.3" y1="557.6" x2="564.0" y2="557.6" stroke="#2a2a2a" stroke-width="1.1"/>
<text x="555.0" y="560.2" font-size="8.2" text-anchor="end" fill="#0a0a0a" stroke="#0a0a0a" stroke-width="0.22" letter-spacing="0.2">Bone maturation</text>
<rect x="568.5" y="569.6" width="76.9" height="9.7" fill="#cf5561" stroke="#1a0305" stroke-width="0.9"/>
<rect x="568.5" y="579.3" width="7.0" height="9.7" fill="#4a72ee" stroke="#03051a" stroke-width="0.9"/>
<line x1="560.3" y1="579.3" x2="564.0" y2="579.3" stroke="#2a2a2a" stroke-width="1.1"/>
<text x="555.0" y="581.9" font-size="8.2" text-anchor="end" fill="#0a0a0a" stroke="#0a0a0a" stroke-width="0.22" letter-spacing="0.2">Hexose catabolic process</text>
<rect x="568.5" y="591.3" width="74.9" height="9.7" fill="#cf5561" stroke="#1a0305" stroke-width="0.9"/>
<rect x="568.5" y="601.0" width="26.8" height="9.7" fill="#4a72ee" stroke="#03051a" stroke-width="0.9"/>
<line x1="560.3" y1="601.0" x2="564.0" y2="601.0" stroke="#2a2a2a" stroke-width="1.1"/>
<text x="555.0" y="603.6" font-size="8.2" text-anchor="end" fill="#0a0a0a" stroke="#0a0a0a" stroke-width="0.22" letter-spacing="0.2">cAMP binding</text>
<rect x="568.5" y="613.0" width="74.0" height="9.7" fill="#cf5561" stroke="#1a0305" stroke-width="0.9"/>
<rect x="568.5" y="622.7" width="3.0" height="9.7" fill="#4a72ee" stroke="#03051a" stroke-width="0.9"/>
<line x1="560.3" y1="622.7" x2="564.0" y2="622.7" stroke="#2a2a2a" stroke-width="1.1"/>
<text x="555.0" y="625.3" font-size="8.2" text-anchor="end" fill="#0a0a0a" stroke="#0a0a0a" stroke-width="0.22" letter-spacing="0.2">Specific granule membrane</text>
<line x1="614.5" y1="370.0" x2="614.5" y2="635.5" stroke="#111" stroke-width="1.1" stroke-dasharray="5.5 3.3"/>
<line x1="563.9" y1="370.0" x2="563.9" y2="636.0" stroke="#444" stroke-width="1.1"/>
<line x1="563.5" y1="635.5" x2="669.0" y2="635.5" stroke="#2a2a2a" stroke-width="1.1"/>
<line x1="568.1" y1="635.5" x2="568.1" y2="638.4" stroke="#2a2a2a" stroke-width="1.1"/>
<text x="568.1" y="651.5" font-size="8.6" text-anchor="middle" fill="#141414" stroke="#141414" stroke-width="0.22">0</text>
<line x1="603.6" y1="635.5" x2="603.6" y2="638.4" stroke="#2a2a2a" stroke-width="1.1"/>
<text x="603.6" y="651.5" font-size="8.6" text-anchor="middle" fill="#141414" stroke="#141414" stroke-width="0.22">1</text>
<line x1="638.9" y1="635.5" x2="638.9" y2="638.4" stroke="#2a2a2a" stroke-width="1.1"/>
<text x="638.9" y="651.5" font-size="8.6" text-anchor="middle" fill="#141414" stroke="#141414" stroke-width="0.22">2</text>
<text x="589.0" y="667.8" font-size="8.3" text-anchor="start" fill="#141414" stroke="#141414" stroke-width="0.22">–log<tspan font-size="5.5" dy="2">10</tspan><tspan dy="-2">(</tspan><tspan font-style="italic">P</tspan> value)</text>
<rect x="414.6" y="660.0" width="10.8" height="10.3" fill="#cf5561" stroke="#111" stroke-width="0.9"/>
<text x="430.0" y="668.2" font-size="10.5" text-anchor="start" fill="#141414" stroke="#141414" stroke-width="0.22">Cardiomyocyte</text>
<rect x="507.2" y="660.0" width="10.8" height="10.3" fill="#4a72ee" stroke="#111" stroke-width="0.9"/>
<text x="521.8" y="668.2" font-size="10.5" text-anchor="start" fill="#141414" stroke="#141414" stroke-width="0.22">Neuron</text>
<path d="M437.9 712V704.6H1021.8V712" fill="none" stroke="#111" stroke-width="1.1"/>
</g>
<g id="panel-f">
<text x="694.5" y="373.8" font-size="15" text-anchor="start" fill="#111" font-weight="bold">f</text>
<line x1="735.6" y1="385.0" x2="735.6" y2="636.1" stroke="#2a2a2a" stroke-width="1.2"/>
<line x1="735.0" y1="635.5" x2="988.5" y2="635.5" stroke="#2a2a2a" stroke-width="1.2"/>
<line x1="730.7" y1="429.2" x2="735.6" y2="429.2" stroke="#2a2a2a" stroke-width="1.1"/>
<text x="726.0" y="433.5" font-size="12.3" text-anchor="end" fill="#141414" stroke="#141414" stroke-width="0.22">1.5</text>
<line x1="730.7" y1="494.3" x2="735.6" y2="494.3" stroke="#2a2a2a" stroke-width="1.1"/>
<text x="726.0" y="498.6" font-size="12.3" text-anchor="end" fill="#141414" stroke="#141414" stroke-width="0.22">1.0</text>
<line x1="730.7" y1="559.4" x2="735.6" y2="559.4" stroke="#2a2a2a" stroke-width="1.1"/>
<text x="726.0" y="563.7" font-size="12.3" text-anchor="end" fill="#141414" stroke="#141414" stroke-width="0.22">0.5</text>
<line x1="730.7" y1="624.5" x2="735.6" y2="624.5" stroke="#2a2a2a" stroke-width="1.1"/>
<text x="726.0" y="628.8" font-size="12.3" text-anchor="end" fill="#141414" stroke="#141414" stroke-width="0.22">0</text>
<line x1="745.5" y1="635.5" x2="745.5" y2="640.8" stroke="#2a2a2a" stroke-width="1.1"/>
<text x="745.5" y="654.3" font-size="12.3" text-anchor="middle" fill="#141414" stroke="#141414" stroke-width="0.22">0</text>
<line x1="801.9" y1="635.5" x2="801.9" y2="640.8" stroke="#2a2a2a" stroke-width="1.1"/>
<text x="801.9" y="654.3" font-size="12.3" text-anchor="middle" fill="#141414" stroke="#141414" stroke-width="0.22">20</text>
<line x1="858.2" y1="635.5" x2="858.2" y2="640.8" stroke="#2a2a2a" stroke-width="1.1"/>
<text x="858.2" y="654.3" font-size="12.3" text-anchor="middle" fill="#141414" stroke="#141414" stroke-width="0.22">40</text>
<line x1="914.6" y1="635.5" x2="914.6" y2="640.8" stroke="#2a2a2a" stroke-width="1.1"/>
<text x="914.6" y="654.3" font-size="12.3" text-anchor="middle" fill="#141414" stroke="#141414" stroke-width="0.22">60</text>
<line x1="970.9" y1="635.5" x2="970.9" y2="640.8" stroke="#2a2a2a" stroke-width="1.1"/>
<text x="970.9" y="654.3" font-size="12.3" text-anchor="middle" fill="#141414" stroke="#141414" stroke-width="0.22">80</text>
<text x="861.5" y="674.0" font-size="12.3" text-anchor="middle" fill="#141414" stroke="#141414" stroke-width="0.22">Age (years)</text>
<text x="697.3" y="511.0" font-size="12.3" text-anchor="middle" fill="#141414" stroke="#141414" stroke-width="0.22" transform="rotate(-90 697.3 511.0)">Cells with complete KO genes (%)</text>
<polyline points="745.5,623.2 748.3,623.2 751.1,623.2 754.0,623.2 756.8,623.2 759.6,623.2 762.4,623.2 765.2,623.2 768.0,623.2 770.9,623.2 773.7,623.2 776.5,623.2 779.3,623.2 782.1,623.2 785.0,623.2 787.8,623.2 790.6,623.2 793.4,623.2 796.2,623.2 799.0,623.2 801.9,623.2 804.7,623.2 807.5,623.2 810.3,623.2 813.1,623.2 816.0,623.2 818.8,623.2 821.6,623.2 824.4,623.2 827.2,623.2 830.0,623.2 832.9,623.2 835.7,623.2 838.5,623.2 841.3,623.2 844.1,623.2 846.9,623.2 849.8,623.2 852.6,623.2 855.4,623.2 858.2,623.2 861.0,623.2 863.9,623.2 866.7,623.2 869.5,623.2 872.3,623.2 875.1,623.1 877.9,623.1 880.8,623.1 883.6,623.1 886.4,623.1 889.2,623.1 892.0,623.0 894.9,623.0 897.7,623.0 900.5,622.9 903.3,622.9 906.1,622.8 908.9,622.7 911.8,622.7 914.6,622.5 917.4,622.4 920.2,622.3 923.0,622.1 925.9,621.9 928.7,621.6 931.5,621.3 934.3,621.0 937.1,620.5 939.9,620.0 942.8,619.4 945.6,618.7 948.4,617.8 951.2,616.8 954.0,615.6 956.9,614.1 959.7,612.3 962.5,610.2 965.3,607.7 968.1,604.8 970.9,601.2 973.8,597.0 976.6,592.0" fill="none" stroke="#c8505f" stroke-width="1.5"/>
<circle cx="746.9" cy="623.2" r="2.5" fill="#c8505f"/>
<circle cx="751.1" cy="622.5" r="2.5" fill="#c8505f"/>
<circle cx="756.8" cy="623.6" r="2.5" fill="#c8505f"/>
<circle cx="830.0" cy="622.8" r="2.5" fill="#c8505f"/>
<circle cx="844.1" cy="623.5" r="2.5" fill="#c8505f"/>
<circle cx="855.4" cy="623.0" r="2.5" fill="#c8505f"/>
<circle cx="883.6" cy="623.2" r="2.5" fill="#c8505f"/>
<circle cx="923.0" cy="618.1" r="2.5" fill="#c8505f"/>
<circle cx="931.5" cy="614.3" r="2.5" fill="#c8505f"/>
<circle cx="956.9" cy="606.3" r="2.5" fill="#c8505f"/>
<circle cx="956.9" cy="622.3" r="2.5" fill="#c8505f"/>
<polyline points="745.5,618.0 748.3,618.0 751.1,618.0 754.0,618.0 756.8,618.0 759.6,618.0 762.4,618.0 765.2,618.0 768.0,618.0 770.9,618.0 773.7,618.0 776.5,618.0 779.3,618.0 782.1,618.0 785.0,618.0 787.8,618.0 790.6,618.0 793.4,618.0 796.2,618.0 799.0,618.0 801.9,618.0 804.7,618.0 807.5,618.0 810.3,618.0 813.1,618.0 816.0,617.9 818.8,617.9 821.6,617.9 824.4,617.9 827.2,617.9 830.0,617.9 832.9,617.9 835.7,617.9 838.5,617.9 841.3,617.8 844.1,617.8 846.9,617.8 849.8,617.8 852.6,617.7 855.4,617.7 858.2,617.6 861.0,617.6 863.9,617.5 866.7,617.4 869.5,617.4 872.3,617.3 875.1,617.2 877.9,617.0 880.8,616.9 883.6,616.7 886.4,616.6 889.2,616.3 892.0,616.1 894.9,615.8 897.7,615.5 900.5,615.1 903.3,614.7 906.1,614.2 908.9,613.6 911.8,613.0 914.6,612.2 917.4,611.4 920.2,610.4 923.0,609.3 925.9,608.0 928.7,606.5 931.5,604.8 934.3,602.8 937.1,600.5 939.9,597.9 942.8,594.9 945.6,591.5 948.4,587.5 951.2,583.0 954.0,577.7 956.9,571.7 959.7,564.8 962.5,556.9 965.3,547.8 968.1,537.3 970.9,525.3 973.8,511.5 976.6,495.6" fill="none" stroke="#5577dd" stroke-width="1.5"/>
<circle cx="751.1" cy="618.3" r="2.5" fill="#5577dd"/>
<circle cx="830.0" cy="618.6" r="2.5" fill="#5577dd"/>
<circle cx="855.4" cy="617.2" r="2.5" fill="#5577dd"/>
<circle cx="883.6" cy="618.5" r="2.5" fill="#5577dd"/>
<circle cx="956.9" cy="613.9" r="2.5" fill="#5577dd"/>
<line x1="923.0" y1="587.8" x2="923.0" y2="609.7" stroke="#5577dd" stroke-width="0.9"/>
<circle cx="923.0" cy="598.3" r="2.5" fill="#5577dd"/>
<line x1="931.5" y1="576.0" x2="931.5" y2="592.8" stroke="#5577dd" stroke-width="0.9"/>
<circle cx="931.5" cy="584.4" r="2.5" fill="#5577dd"/>
<line x1="956.9" y1="506.4" x2="956.9" y2="622.0" stroke="#5577dd" stroke-width="0.9"/>
<circle cx="956.9" cy="549.4" r="2.5" fill="#5577dd"/>
<line x1="976.6" y1="396.9" x2="976.6" y2="616.0" stroke="#5577dd" stroke-width="0.9"/>
<circle cx="976.6" cy="494.2" r="2.5" fill="#5577dd"/>
<line x1="976.6" y1="565.4" x2="976.6" y2="616.8" stroke="#c8505f" stroke-width="0.9"/>
<circle cx="976.6" cy="591.5" r="2.5" fill="#c8505f"/>
<line x1="956.9" y1="590.0" x2="956.9" y2="616.0" stroke="#c8505f" stroke-width="0.9"/>
<circle cx="956.9" cy="606.3" r="2.5" fill="#c8505f"/>
<text x="752.8" y="403.4" font-size="12.3" text-anchor="start" fill="#141414" stroke="#141414" stroke-width="0.22">Model</text>
<line x1="753.3" y1="419.5" x2="763.0" y2="419.5" stroke="#e0607a" stroke-width="1.3"/>
<circle cx="758.0" cy="419.5" r="2.1" fill="#e0607a"/>
<text x="773.6" y="423.2" font-size="12.3" text-anchor="start" fill="#141414" stroke="#141414" stroke-width="0.22">Tetraploid cardiomyocyte</text>
<line x1="753.3" y1="437.7" x2="763.0" y2="437.7" stroke="#5577dd" stroke-width="1.3"/>
<circle cx="758.0" cy="437.7" r="2.1" fill="#5577dd"/>
<text x="773.6" y="441.0" font-size="12.3" text-anchor="start" fill="#141414" stroke="#141414" stroke-width="0.22">Diploid cardiomyocyte</text>
<path d="M992.7 494.2H1006.2V529.6M1006.2 554V591.5H992.7" fill="none" stroke="#222" stroke-width="1.1"/>
<text x="984.3" y="545.8" font-size="12.3" text-anchor="start" fill="#141414" stroke="#141414" stroke-width="0.22"><tspan font-style="italic">P</tspan> = 4.9 × 10<tspan font-size="8.4" dy="-5.4">–4</tspan></text>
</g>
</svg>
</body></html>
